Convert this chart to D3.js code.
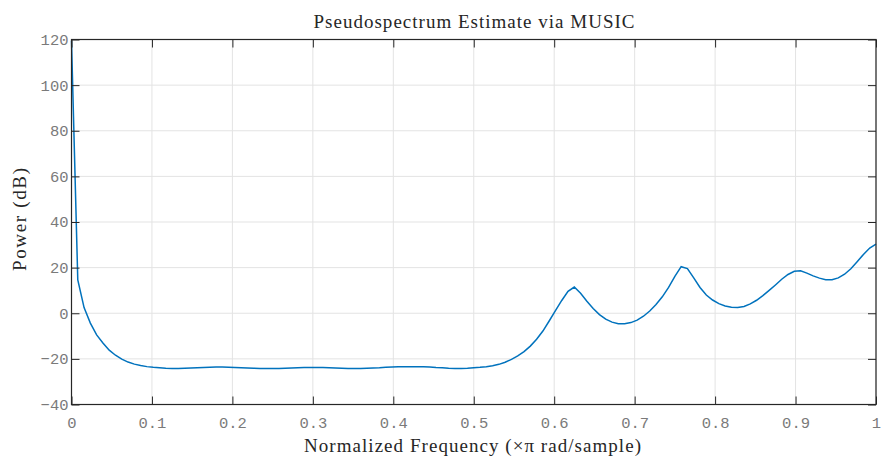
<!DOCTYPE html>
<html>
<head>
<meta charset="utf-8">
<script src="https://cdn.jsdelivr.net/npm/d3@7"></script>
<style>
    body { margin: 0; background: #fff; }
    .tick-label { font-family: "Liberation Mono", "DejaVu Sans Mono", monospace; font-size: 15.5px; fill: #7a7a7a; }
    .lbl { font-family: "Liberation Serif", "DejaVu Serif", serif; font-size: 19px; fill: #262626; }
</style>
</head>
<body>
<svg id="chart" width="882" height="461"></svg>
<script>
    // pseudospectrum, sampled at k/128 (k = 0..128) of normalized frequency
    const power = [
        119.5, 14.6, 2.5, -4.3, -9.5, -13.0, -16.2, -18.4, -20.1, -21.4,
        -22.3, -22.9, -23.4, -23.7, -23.9, -24.1, -24.2, -24.2, -24.1, -24.0,
        -23.9, -23.8, -23.7, -23.6, -23.6, -23.7, -23.8, -23.9, -24.0, -24.1,
        -24.2, -24.2, -24.2, -24.2, -24.1, -24.0, -23.9, -23.8, -23.8, -23.8,
        -23.8, -23.9, -24.0, -24.1, -24.2, -24.2, -24.2, -24.1, -24.0, -23.9,
        -23.7, -23.6, -23.5, -23.4, -23.4, -23.4, -23.5, -23.6, -23.8, -23.9,
        -24.1, -24.2, -24.2, -24.1, -23.9, -23.7, -23.4, -23.0, -22.4, -21.5,
        -20.2, -18.7, -16.8, -14.4, -11.4, -7.8, -3.4, 1.2, 5.6, 9.6,
        11.5, 8.8, 5.3, 2.1, -0.6, -2.6, -3.9, -4.6, -4.6, -4.1,
        -3.0, -1.3, 1.0, 3.8, 7.2, 11.3, 16.2, 20.4, 19.6, 15.5,
        11.3, 8.0, 5.8, 4.2, 3.2, 2.6, 2.5, 3.0, 4.1, 5.7,
        7.7, 10.0, 12.4, 14.9, 17.0, 18.4, 18.6, 17.6, 16.4, 15.4,
        14.7, 14.7, 15.5, 17.1, 19.5, 22.6, 25.8, 28.6, 30.3
    ];
    const freq = power.map((d, i) => i / 128);

    const xTicks = [0, 0.1, 0.2, 0.3, 0.4, 0.5, 0.6, 0.7, 0.8, 0.9, 1];
    const yTicks = [-40, -20, 0, 20, 40, 60, 80, 100, 120];

    const svg = d3.select('#chart');
    const pL = 71.5, pR = 876, pT = 39.5, pB = 404.5;

    const x = d3.scaleLinear().domain([0, 1]).range([pL, pR]);
    const y = d3.scaleLinear().domain([-40, 120]).range([pB, pT]);

    // grid
    svg.append('g').selectAll('line').data(xTicks).join('line')
        .attr('x1', d => x(d)).attr('x2', d => x(d))
        .attr('y1', pT).attr('y2', pB)
        .attr('stroke', '#e3e3e3').attr('stroke-width', 1);
    svg.append('g').selectAll('line').data(yTicks).join('line')
        .attr('x1', pL).attr('x2', pR)
        .attr('y1', d => y(d)).attr('y2', d => y(d))
        .attr('stroke', '#e3e3e3').attr('stroke-width', 1);

    // curve
    const line = d3.line().x((d, i) => x(freq[i])).y(d => y(Math.min(d, 120)));
    svg.append('path').datum(power)
        .attr('d', line)
        .attr('fill', 'none')
        .attr('stroke', '#0072bd')
        .attr('stroke-width', 1.5);

    // axes (ticks inward, box)
    const tl = 8;
    const axB = svg.append('g').attr('transform', `translate(0,${pB})`)
        .call(d3.axisBottom(x).tickValues(xTicks).tickSize(-tl).tickPadding(12.5).tickFormat(d3.format('~g')));
    const axT = svg.append('g').attr('transform', `translate(0,${pT})`)
        .call(d3.axisTop(x).tickValues(xTicks).tickSize(-tl).tickFormat(''));
    const axL = svg.append('g').attr('transform', `translate(${pL},0)`)
        .call(d3.axisLeft(y).tickValues(yTicks).tickSize(-tl).tickPadding(3));
    const axR = svg.append('g').attr('transform', `translate(${pR},0)`)
        .call(d3.axisRight(y).tickValues(yTicks).tickSize(-tl).tickFormat(''));
    [axB, axT, axL, axR].forEach(a => {
        a.attr('font-family', null).attr('font-size', null);
        a.select('.domain').remove();
        a.selectAll('.tick line').attr('stroke', '#262626');
        a.selectAll('text').attr('class', 'tick-label').attr('fill', null);
    });
    axL.selectAll('text').text(d => d < 0 ? '\u2212' + Math.abs(d) : d);

    svg.append('rect')
        .attr('x', pL).attr('y', pT)
        .attr('width', pR - pL).attr('height', pB - pT)
        .attr('fill', 'none').attr('stroke', '#262626').attr('stroke-width', 1.2);

    // labels
    svg.append('text').attr('class', 'lbl')
        .attr('x', 313.5).attr('y', 28)
        .attr('textLength', 321).attr('lengthAdjust', 'spacing')
        .text('Pseudospectrum Estimate via MUSIC');
    svg.append('text').attr('class', 'lbl')
        .attr('x', 304).attr('y', 452)
        .attr('textLength', 337).attr('lengthAdjust', 'spacing')
        .text('Normalized Frequency (\u00d7\u03c0 rad/sample)');
    svg.append('text').attr('class', 'lbl')
        .attr('transform', `translate(26,271) rotate(-90)`)
        .attr('textLength', 103).attr('lengthAdjust', 'spacing')
        .text('Power (dB)');
</script>
</body>
</html>
